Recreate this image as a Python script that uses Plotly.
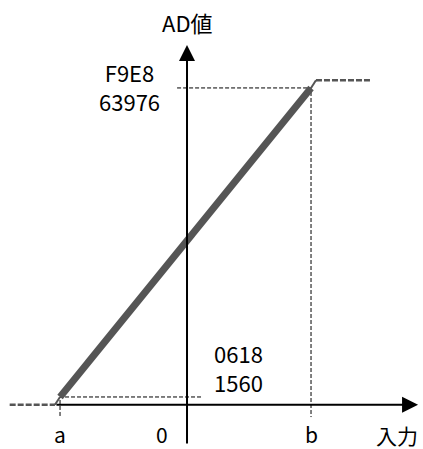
import plotly.graph_objects as go

# ---- data ----
a_val = -10.24
b_val = 10.0
ad_min = 0
ad_max = 65535
ad_at_a = 1560
ad_at_b = 63976
hex_at_a = "0618"
hex_at_b = "F9E8"
x_tick_labels = ["a", "0", "b"]
x_tick_vals = [a_val, 0, b_val]
sat_left = [-14.3, -10.65]
sat_right = [10.4, 14.84]

FONT = "Noto Sans CJK JP, sans-serif"
GRAY = "#555555"

fig = go.Figure()

# guide dashed lines (black)
fig.add_trace(go.Scatter(x=[-0.8, b_val, b_val], y=[ad_at_b, ad_at_b, -2500],
                         mode="lines", line=dict(color="black", width=1, dash="4px,2px")))
fig.add_trace(go.Scatter(x=[1.13, a_val, a_val], y=[ad_at_a, ad_at_a, -2500],
                         mode="lines", line=dict(color="black", width=1, dash="4px,2px")))

# saturated parts
fig.add_trace(go.Scatter(x=sat_left, y=[ad_min, ad_min], mode="lines",
                         line=dict(color=GRAY, width=2.5, dash="6px,2px")))
fig.add_trace(go.Scatter(x=sat_right, y=[ad_max, ad_max], mode="lines",
                         line=dict(color=GRAY, width=2.5, dash="6px,2px")))
fig.add_trace(go.Scatter(x=[sat_left[1], a_val], y=[ad_min, ad_at_a], mode="lines",
                         line=dict(color=GRAY, width=2)))
fig.add_trace(go.Scatter(x=[b_val, sat_right[0]], y=[ad_at_b, ad_max], mode="lines",
                         line=dict(color=GRAY, width=2)))

# linear range
fig.add_trace(go.Scatter(x=[a_val, b_val], y=[ad_at_a, ad_at_b], mode="lines",
                         line=dict(color=GRAY, width=7)))

anns = []
# axes with arrows
anns.append(dict(x=18.63, y=0, ax=-10.65, ay=0, xref="x", yref="y", axref="x", ayref="y",
                 showarrow=True, arrowhead=2, arrowsize=1.6, arrowwidth=2, arrowcolor="black", text=""))
anns.append(dict(x=0, y=72630, ax=0, ay=-8140, xref="x", yref="y", axref="x", ayref="y",
                 showarrow=True, arrowhead=2, arrowsize=1.6, arrowwidth=2, arrowcolor="black", text=""))

tf = dict(family=FONT, size=22, color="black")
for lab, xv, dx in zip(x_tick_labels, x_tick_vals, [0, -25, 0]):
    anns.append(dict(x=xv, y=0, xref="x", yref="y", text=lab, showarrow=False,
                     xshift=dx, yshift=-29, font=dict(family=FONT, size=21, color="black")))
anns.append(dict(x=18.63, y=0, xref="x", yref="y", text="入力", showarrow=False,
                 xanchor="right", xshift=2, yshift=-30, font=dict(family=FONT, size=21, color="black")))
anns.append(dict(x=0, y=72630, xref="x", yref="y", text="AD値", showarrow=False,
                 yshift=23, font=dict(family=FONT, size=22, color="black")))
anns.append(dict(x=0, y=ad_at_b, xref="x", yref="y", text=hex_at_b + "<br>" + str(ad_at_b),
                 showarrow=False, align="center", xshift=-58, yshift=1, font=tf))
anns.append(dict(x=0, y=ad_at_a, xref="x", yref="y", text=hex_at_a + "<br>" + str(ad_at_a),
                 showarrow=False, align="center", xshift=51, yshift=29, font=tf))

fig.update_layout(
    width=423, height=449, margin=dict(l=0, r=0, t=0, b=0),
    paper_bgcolor="white", plot_bgcolor="white", showlegend=False,
    xaxis=dict(range=[-15.08, 19.03], visible=False),
    yaxis=dict(range=[-8950, 81740], visible=False),
    annotations=anns,
)
fig.write_html("out.html", config={"displayModeBar": False},
               post_script="document.body.style.margin='0';document.body.style.overflow='hidden';")
